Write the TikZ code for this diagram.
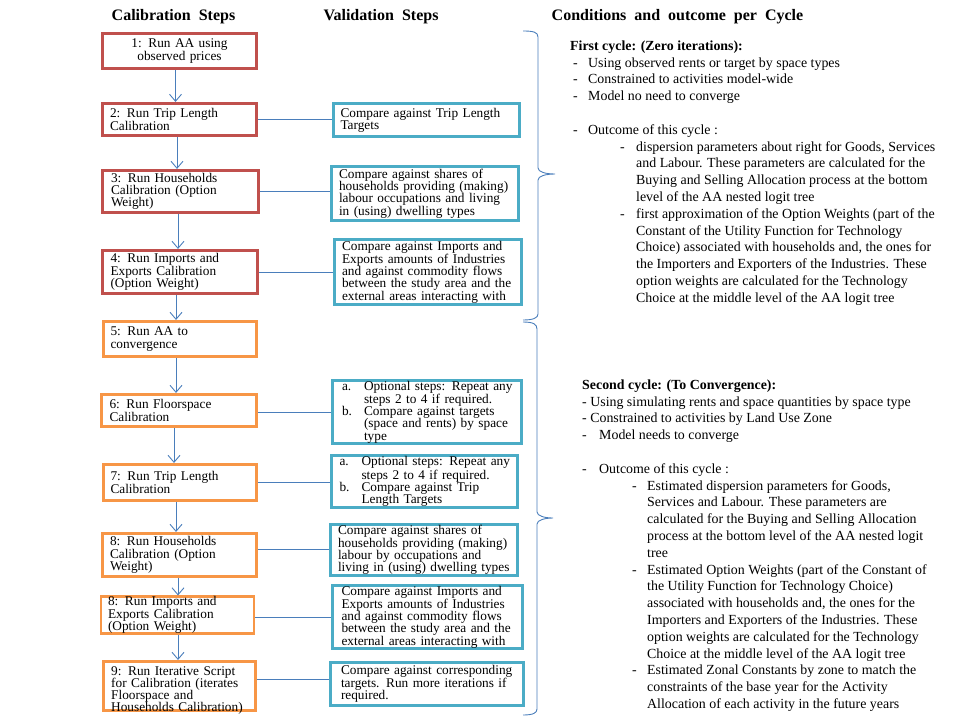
\documentclass[tikz,border=0pt]{standalone}
\usepackage{fontspec}
\setmainfont{Liberation Serif}
\usetikzlibrary{arrows.meta}
\definecolor{redc}{HTML}{C0504D}
\definecolor{orac}{HTML}{F79646}
\definecolor{bluc}{HTML}{4BACC6}
\definecolor{linec}{HTML}{4A7EBB}
\newcommand\dashA{\hspace*{3pt}\makebox[15pt][l]{-}}
\newcommand\dashB{\hspace*{50pt}\makebox[16pt][l]{-}}
\newcommand\contB{\hspace*{66pt}}
\newcommand\dashC{\makebox[17pt][l]{-}}
\newcommand\dashD{\hspace*{50pt}\makebox[15pt][l]{-}}
\newcommand\contD{\hspace*{65pt}}
\newcommand\labA[1]{\hspace*{1pt}\makebox[22pt][l]{#1}}
\newcommand\contA{\hspace*{23pt}}
\begin{document}
\begin{tikzpicture}[x=1pt,y=-1pt,
 boxfont/.style={font=\fontsize{13.3}{12.2}\selectfont},
 calbox/.style={draw, line width=2.6pt, rectangle, inner xsep=7pt, inner ysep=0pt, text width=139pt, align=left, boxfont},
 redbox/.style={calbox, draw=redc},
 orabox/.style={calbox, draw=orac},
 valbox/.style={draw=bluc, line width=2.6pt, rectangle, inner xsep=7pt, inner ysep=0pt, text width=172pt, align=left, boxfont},
 boxtext/.style={boxfont, align=left, text width=139pt, inner sep=0pt, anchor=north west},
 arr/.style={draw=linec, line width=0.9pt, -{Straight Barb[length=7pt,width=12pt]}},
 conn/.style={draw=linec, line width=0.9pt},
 brc/.style={draw=linec, line width=0.9pt},
 head/.style={font=\fontsize{16}{18}\selectfont\bfseries, inner sep=0pt},
 body/.style={font=\fontsize{13.9}{16.8}\selectfont, align=left, inner sep=0pt, anchor=north west},
]
\useasboundingbox (0,0) rectangle (960,720);

% headers
\node[head] (h1) at (173.5,17) {Calibration\ \ Steps};
\node[head] (h2) at (381,17) {Validation\ \ Steps};
\node[head] (h3) at (677.5,17) {Conditions\ \ and\ \ outcome\ \ per\ \ Cycle};

% calibration boxes
\node[redbox, minimum width=154.5pt, minimum height=35.5pt, align=center] (r1) at (179.5,51) {1: Run AA using\\observed prices};
\node[redbox, minimum width=154.5pt, minimum height=32.5pt] (r2) at (179.5,119.5) {2: Run Trip Length\\Calibration};
\node[redbox, minimum width=156.5pt, minimum height=42.5pt] (r3) at (180.5,191.5) {3: Run Households\\Calibration (Option\\Weight)};
\node[redbox, minimum width=155.5pt, minimum height=43.5pt] (r4) at (180,272) {4: Run Imports and\\Exports Calibration\\(Option Weight)};
\node[orabox, minimum width=153.5pt, minimum height=35.5pt] (o5) at (180,339) {5: Run AA to\\convergence};
\node[orabox, minimum width=155.5pt, minimum height=32.5pt] (o6) at (179,410.5) {6: Run Floorspace\\Calibration};
\node[orabox, minimum width=153.5pt, minimum height=36.5pt] (o7) at (180,482.5) {7: Run Trip Length\\Calibration};
\node[orabox, minimum width=154.5pt, minimum height=43.5pt] (o8) at (179.5,555) {8: Run Households\\Calibration (Option\\Weight)};
\node[orabox, minimum width=152.5pt, minimum height=35.5pt] (o8b) at (177.5,615) {8: Run Imports and\\Exports Calibration\\(Option Weight)};
\node[draw=orac, line width=2.6pt, rectangle, inner sep=0pt, minimum width=152.5pt, minimum height=49.5pt] (o9) at (179.5,686) {};
\node[boxtext] (o9t) at (111,666) {9: Run Iterative Script\\for Calibration (iterates\\Floorspace and\\Households Calibration)};

% validation boxes
\node[valbox, minimum width=186.5pt, minimum height=33.5pt] (b2) at (426.5,120) {Compare against Trip Length\\Targets};
\node[valbox, minimum width=186.5pt, minimum height=53.5pt] (b3) at (425,193.5) {Compare against shares of\\households providing (making)\\labour occupations and living\\in (using) dwelling types};
\node[valbox, minimum width=186.5pt, minimum height=65.5pt] (b4) at (428,272) {Compare against Imports and\\Exports amounts of Industries\\and against commodity flows\\between the study area and the\\external areas interacting with};
\node[valbox, minimum width=189.5pt, minimum height=63.5pt] (b6) at (427,412) {\labA{a.}Optional steps: Repeat any\\\contA steps 2 to 4 if required.\\\labA{b.}Compare against targets\\\contA (space and rents) by space\\\contA type};
\node[valbox, minimum width=186.5pt, minimum height=52.5pt] (b7) at (424.5,481.5) {\labA{a.}Optional steps: Repeat any\\\contA steps 2 to 4 if required.\\\labA{b.}Compare against Trip\\\contA Length Targets};
\node[valbox, minimum width=186.5pt, minimum height=51.5pt] (b8) at (424,550) {Compare against shares of\\households providing (making)\\labour by occupations and\\living in (using) dwelling types};
\node[valbox, minimum width=190.5pt, minimum height=63.5pt] (b8b) at (427.5,617) {Compare against Imports and\\Exports amounts of Industries\\and against commodity flows\\between the study area and the\\external areas interacting with};
\node[valbox, minimum width=193.5pt, minimum height=43.5pt] (b9) at (427,684) {Compare against corresponding\\targets. Run more iterations if\\required.};

% vertical arrows
\draw[arr] ([xshift=-4pt]r1.south) -- ([xshift=-4pt]r1.south |- r2.north);
\draw[arr] ([xshift=-2.5pt]r2.south) -- ([xshift=-2.5pt]r2.south |- r3.north);
\draw[arr] ([xshift=-2.5pt]r3.south) -- ([xshift=-2.5pt]r3.south |- r4.north);
\draw[arr] ([xshift=-4pt]r4.south) -- ([xshift=-4pt]r4.south |- o5.north);
\draw[arr] ([xshift=-4pt]o5.south) -- ([xshift=-4pt]o5.south |- o6.north);
\draw[arr] ([xshift=-5pt]o6.south) -- ([xshift=-5pt]o6.south |- o7.north);
\draw[arr] ([xshift=-4pt]o7.south) -- ([xshift=-4pt]o7.south |- o8.north);
\draw[arr] ([xshift=-1.5pt]o8.south) -- ([xshift=-1.5pt]o8.south |- o8b.north);
\draw[arr] ([xshift=0.5pt]o8b.south) -- ([xshift=0.5pt]o8b.south |- o9.north);

% horizontal connectors
\draw[conn] (r2.east) -- (r2.east -| b2.west);
\draw[conn] (r3.east) -- (r3.east -| b3.west);
\draw[conn] (r4.east) -- (r4.east -| b4.west);
\draw[conn] ([yshift=-1.5pt]o6.east) -- ([yshift=-1.5pt]o6.east -| b6.west);
\draw[conn] (o7.east) -- (o7.east -| b7.west);
\draw[conn] ([yshift=6pt]o8.east) -- ([yshift=6pt]o8.east -| b8.west);
\draw[conn] ([yshift=-2pt]o8b.east) -- ([yshift=-2pt]o8b.east -| b8b.west);
\draw[conn] ([yshift=7pt]o9.east) -- ([yshift=7pt]o9.east -| b9.west);

% braces
\draw[brc] (523,31) .. controls (533,31) and (538,32) .. (538,37) -- (538,168)
  .. controls (538,172) and (546,174) .. (555,174)
  .. controls (546,174) and (538,176) .. (538,180) -- (538,314)
  .. controls (538,318) and (533,320) .. (523,320);
\draw[brc] (523,322) .. controls (533,322) and (537,324) .. (537,329) -- (537,512)
  .. controls (537,516) and (545,518) .. (553,518)
  .. controls (545,518) and (537,520) .. (537,524) -- (537,709)
  .. controls (537,713) and (533,715) .. (523,715);

% first cycle text
\node[body] (t1) at (570,40.5) {\textbf{First cycle: (Zero iterations):}\\
\dashA Using observed rents or target by space types\\
\dashA Constrained to activities model-wide\\
\dashA Model no need to converge\\
\mbox{}\\
\dashA Outcome of this cycle :\\
\dashB dispersion parameters about right for Goods, Services\\
\contB and Labour. These parameters are calculated for the\\
\contB Buying and Selling Allocation process at the bottom\\
\contB level of the AA nested logit tree\\
\dashB first approximation of the Option Weights (part of the\\
\contB Constant of the Utility Function for Technology\\
\contB Choice) associated with households and, the ones for\\
\contB the Importers and Exporters of the Industries. These\\
\contB option weights are calculated for the Technology\\
\contB Choice at the middle level of the AA logit tree};

% second cycle text
\node[body] (t2) at (582,379.5) {\textbf{Second cycle: (To Convergence):}\\
- Using simulating rents and space quantities by space type\\
- Constrained to activities by Land Use Zone\\
\dashC Model needs to converge\\
\mbox{}\\
\dashC Outcome of this cycle :\\
\dashD Estimated dispersion parameters for Goods,\\
\contD Services and Labour. These parameters are\\
\contD calculated for the Buying and Selling Allocation\\
\contD process at the bottom level of the AA nested logit\\
\contD tree\\
\dashD Estimated Option Weights (part of the Constant of\\
\contD the Utility Function for Technology Choice)\\
\contD associated with households and, the ones for the\\
\contD Importers and Exporters of the Industries. These\\
\contD option weights are calculated for the Technology\\
\contD Choice at the middle level of the AA logit tree\\
\dashD Estimated Zonal Constants by zone to match the\\
\contD constraints of the base year for the Activity\\
\contD Allocation of each activity in the future years};
\end{tikzpicture}
\end{document}
